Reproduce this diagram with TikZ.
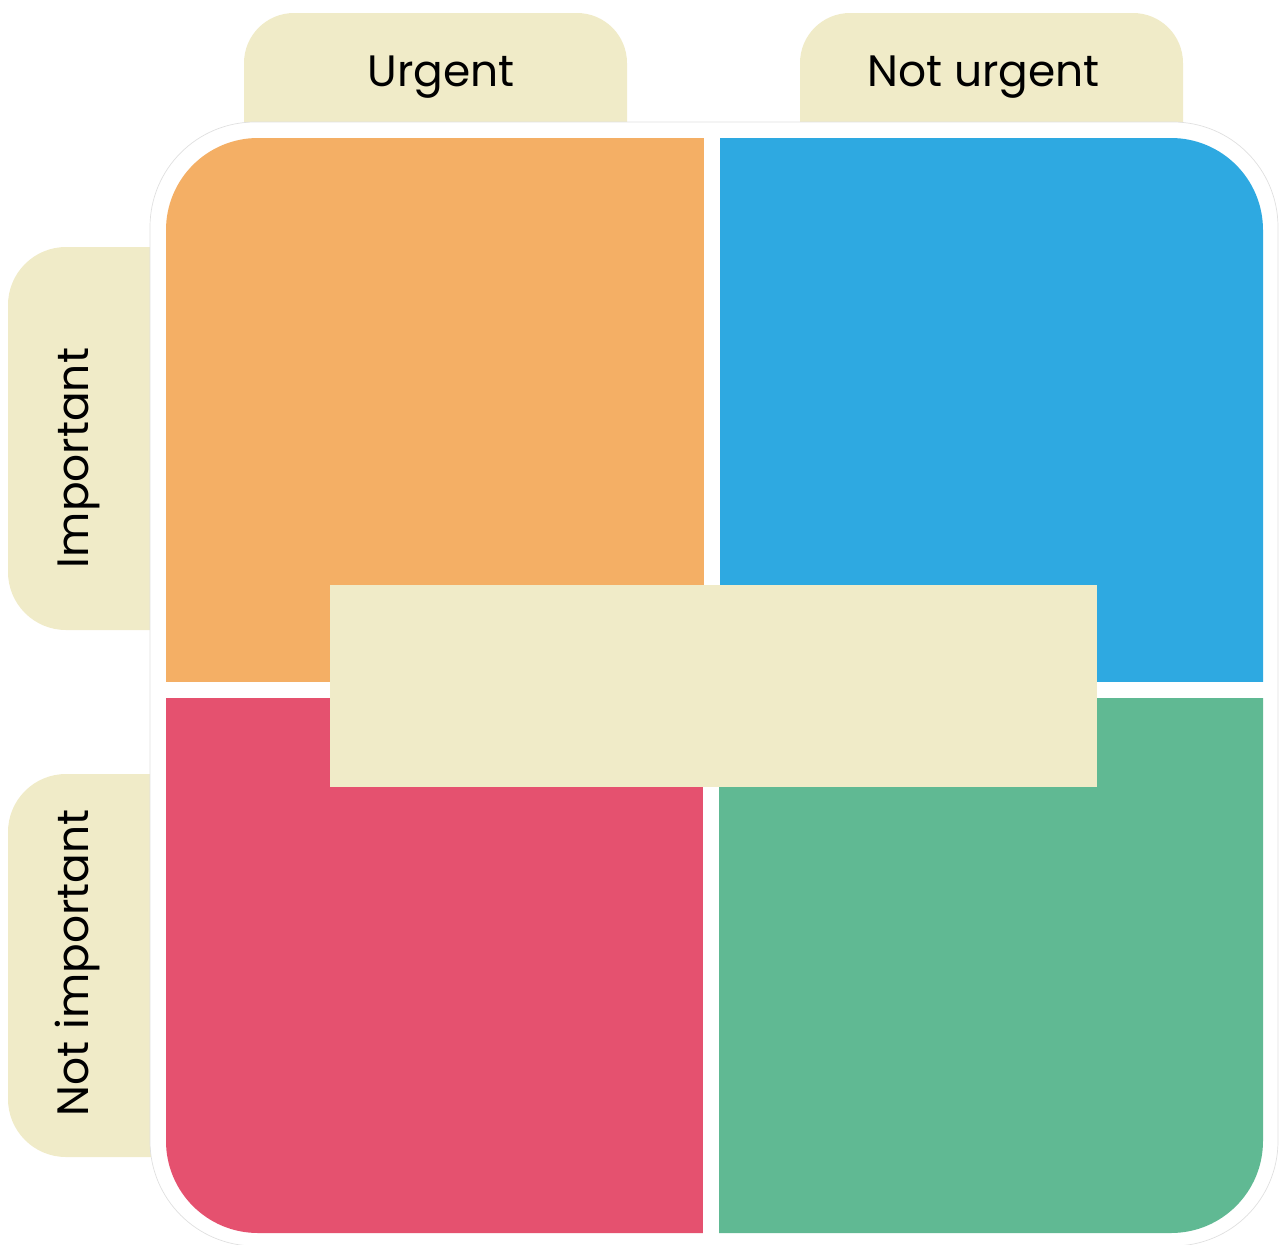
\documentclass[tikz,border=0pt]{standalone}
\usepackage{fontspec}
\setmainfont{Poppins}
\usepackage{xcolor}
\usepackage{tikz}
\definecolor{qorange}{HTML}{F4AF65}
\definecolor{qblue}{HTML}{2EA9E1}
\definecolor{qred}{HTML}{E5516F}
\definecolor{qgreen}{HTML}{60B993}
\definecolor{beige}{HTML}{F0EBC8}
\tikzset{%
  tab/.style     = {fill=beige}, % Axis tab
  quad/.style    = {rectangle, inner sep=0pt, minimum width=12cm,
    minimum height=12cm}, % Quadrant
  caption/.style = {font=\fontsize{25}{30}\selectfont, text=black,
    inner sep=0pt, anchor=base} % Axis text
}

\begin{document}
\begin{tikzpicture}[x=0.02cm, y=-0.02cm]
        \useasboundingbox (0,0) rectangle (1279,1245);
        % tabs
        \fill[tab, rounded corners=1cm] (244,13) rectangle (627,200);
        \fill[tab, rounded corners=1cm] (800,13) rectangle (1183,200);
        \fill[tab, rounded corners=1.16cm] (8,247) rectangle (220,630);
        \fill[tab, rounded corners=1.16cm] (8,774) rectangle (220,1157);
        % frame
        \draw[black!12, fill=white, rounded corners=2.1cm] (150,122) rectangle (1278,1246);
        \begin{scope}
            \clip[rounded corners=1.84cm] (166,138) rectangle (1263,1233);
            \node[quad, fill=qorange, anchor=south east] (doit) at (704,682) {};
            \node[quad, fill=qblue, anchor=south west] (plan) at (720,682) {};
            \node[quad, fill=qred, anchor=north east] (delegate) at (703,698) {};
            \node[quad, fill=qgreen, anchor=north west] (drop) at (719,698) {};
        \end{scope}
        \node[tab, inner sep=0pt, minimum width=15.34cm, minimum height=4.04cm] (centre) at (713.5,686) {};
        % axis text
        \node[caption] (urgent) at (441,86) {Urgent};
        \node[caption] (noturgent) at (983.5,86) {Not urgent};
        \node[caption, rotate=90] (important) at (88,458) {Important};
        \node[caption, rotate=90] (notimportant) at (88,963) {Not important};
\end{tikzpicture}
\end{document}
